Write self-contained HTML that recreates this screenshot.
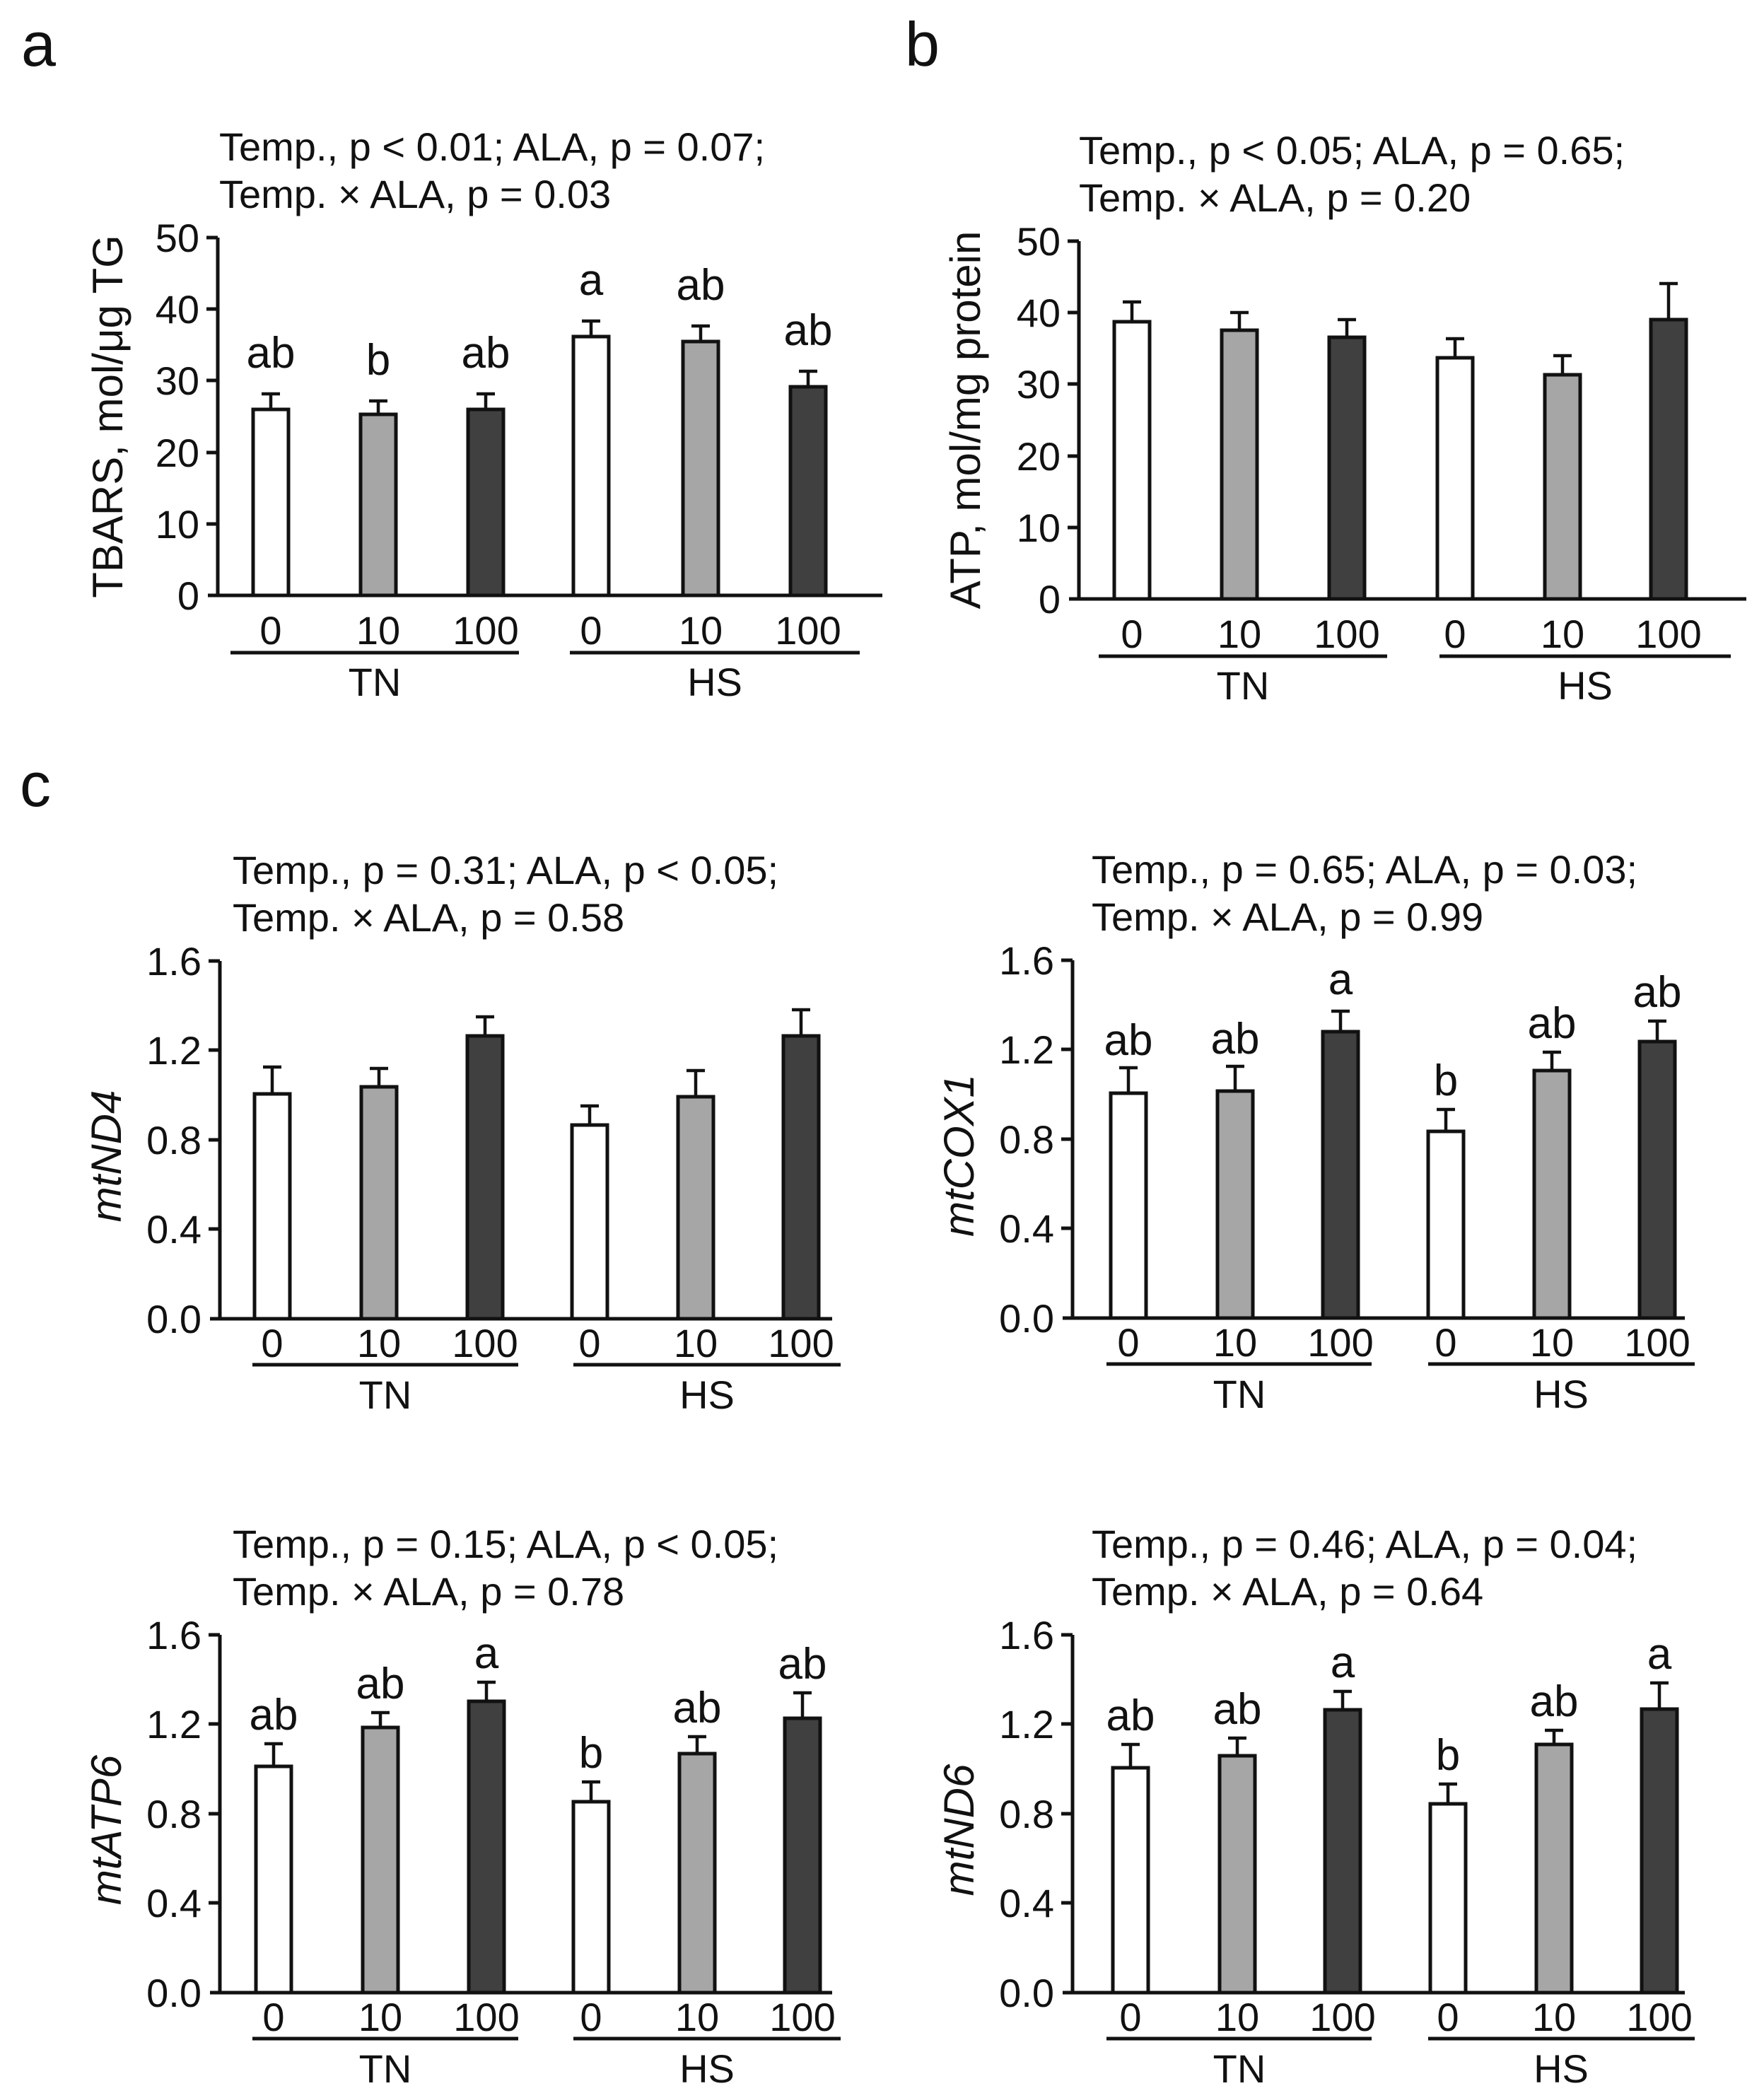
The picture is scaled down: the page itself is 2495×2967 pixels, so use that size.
<!DOCTYPE html>
<html><head><meta charset="utf-8"><style>
html,body{margin:0;padding:0;background:#fff;}
svg{display:block;font-family:"Liberation Sans",Arial,sans-serif;}
.t{font-size:56px;fill:#111;}
.an{font-size:56px;fill:#111;}
.lt{font-size:62px;fill:#111;text-anchor:middle;}
.yl{font-size:60px;fill:#111;text-anchor:middle;}
.pl{font-size:88px;fill:#111;}
.ax{stroke:#111;stroke-width:5;fill:none;}
.w{fill:#fff;stroke:#111;stroke-width:5;}
.g{fill:#a6a6a6;stroke:#111;stroke-width:5;}
.d{fill:#404040;stroke:#111;stroke-width:5;}
.e{stroke:#111;stroke-width:4.5;fill:none;}
</style></head><body>
<svg width="2495" height="2967" viewBox="0 0 2495 2967" xmlns="http://www.w3.org/2000/svg">
<rect width="2495" height="2967" fill="#fff"/>
<text class="pl" x="30" y="93">a</text>
<text class="pl" x="1280" y="93">b</text>
<text class="pl" x="28" y="1140">c</text>

<!-- Panel a -->
<g transform="translate(308,842)">
<text class="an" x="2" y="-615">Temp., p &lt; 0.01; ALA, p = 0.07;</text>
<text class="an" x="2" y="-548">Temp. × ALA, p = 0.03</text>
<text class="yl" transform="translate(-135,-253) rotate(-90)">TBARS, mol/μg TG</text>
<path class="ax" d="M0,-506V0M-14,0H940M-16,-506H0M-16,-405H0M-16,-304H0M-16,-202H0M-16,-101H0"/>
<g class="t" text-anchor="end"><text x="-26" y="20">0</text><text x="-26" y="-81">10</text><text x="-26" y="-182">20</text><text x="-26" y="-284">30</text><text x="-26" y="-385">40</text><text x="-26" y="-486">50</text></g>
<rect class="w" x="50" y="-263" width="50" height="263"/><path class="e" d="M75,-263V-285M62,-285H88"/>
<rect class="g" x="202" y="-256" width="50" height="256"/><path class="e" d="M227,-256V-275M214,-275H240"/>
<rect class="d" x="354" y="-263" width="50" height="263"/><path class="e" d="M379,-263V-285M366,-285H392"/>
<rect class="w" x="503" y="-366" width="50" height="366"/><path class="e" d="M528,-366V-388M515,-388H541"/>
<rect class="g" x="658" y="-359" width="50" height="359"/><path class="e" d="M683,-359V-381M670,-381H696"/>
<rect class="d" x="810" y="-295" width="50" height="295"/><path class="e" d="M835,-295V-317M822,-317H848"/>
<text class="lt" x="75" y="-322">ab</text><text class="lt" x="227" y="-312">b</text><text class="lt" x="379" y="-322">ab</text>
<text class="lt" x="528" y="-425">a</text><text class="lt" x="683" y="-418">ab</text><text class="lt" x="835" y="-354">ab</text>
<g class="t" text-anchor="middle"><text x="75" y="69">0</text><text x="227" y="69">10</text><text x="379" y="69">100</text><text x="528" y="69">0</text><text x="683" y="69">10</text><text x="835" y="69">100</text>
<text x="222" y="142">TN</text><text x="703" y="142">HS</text></g>
<path class="ax" d="M18,81H426M498,81H908"/>
</g>

<!-- Panel b -->
<g transform="translate(1526,847)">
<text class="an" x="0" y="-615">Temp., p &lt; 0.05; ALA, p = 0.65;</text>
<text class="an" x="0" y="-548">Temp. × ALA, p = 0.20</text>
<text class="yl" transform="translate(-140,-253) rotate(-90)">ATP, mol/mg protein</text>
<path class="ax" d="M0,-506V0M-14,0H944M-16,-506H0M-16,-405H0M-16,-304H0M-16,-202H0M-16,-101H0"/>
<g class="t" text-anchor="end"><text x="-26" y="20">0</text><text x="-26" y="-81">10</text><text x="-26" y="-182">20</text><text x="-26" y="-284">30</text><text x="-26" y="-385">40</text><text x="-26" y="-486">50</text></g>
<rect class="w" x="50" y="-392" width="50" height="392"/><path class="e" d="M75,-392V-420M62,-420H88"/>
<rect class="g" x="202" y="-380" width="50" height="380"/><path class="e" d="M227,-380V-405M214,-405H240"/>
<rect class="d" x="354" y="-370" width="50" height="370"/><path class="e" d="M379,-370V-395M366,-395H392"/>
<rect class="w" x="507" y="-341" width="50" height="341"/><path class="e" d="M532,-341V-368M519,-368H545"/>
<rect class="g" x="659" y="-317" width="50" height="317"/><path class="e" d="M684,-317V-344M671,-344H697"/>
<rect class="d" x="809" y="-395" width="50" height="395"/><path class="e" d="M834,-395V-446M821,-446H847"/>
<g class="t" text-anchor="middle"><text x="75" y="69">0</text><text x="227" y="69">10</text><text x="379" y="69">100</text><text x="532" y="69">0</text><text x="684" y="69">10</text><text x="834" y="69">100</text>
<text x="232" y="142">TN</text><text x="716" y="142">HS</text></g>
<path class="ax" d="M28,81H436M510,81H922"/>
</g>

<!-- mtND4 -->
<g transform="translate(311,1865)">
<text class="an" x="18" y="-615">Temp., p = 0.31; ALA, p &lt; 0.05;</text>
<text class="an" x="18" y="-548">Temp. × ALA, p = 0.58</text>
<text class="yl" font-style="italic" transform="translate(-140,-230) rotate(-90)">mtND4</text>
<path class="ax" d="M0,-506V0M-14,0H866M-16,-506H0M-16,-380H0M-16,-253H0M-16,-127H0"/>
<g class="t" text-anchor="end"><text x="-26" y="20">0.0</text><text x="-26" y="-107">0.4</text><text x="-26" y="-233">0.8</text><text x="-26" y="-360">1.2</text><text x="-26" y="-486">1.6</text></g>
<rect class="w" x="49" y="-318" width="50" height="318"/><path class="e" d="M74,-318V-356M61,-356H87"/>
<rect class="g" x="200" y="-328" width="50" height="328"/><path class="e" d="M225,-328V-354M212,-354H238"/>
<rect class="d" x="350" y="-400" width="50" height="400"/><path class="e" d="M375,-400V-427M362,-427H388"/>
<rect class="w" x="498" y="-274" width="50" height="274"/><path class="e" d="M523,-274V-301M510,-301H536"/>
<rect class="g" x="648" y="-314" width="50" height="314"/><path class="e" d="M673,-314V-351M660,-351H686"/>
<rect class="d" x="797" y="-400" width="50" height="400"/><path class="e" d="M822,-400V-437M809,-437H835"/>
<g class="t" text-anchor="middle"><text x="74" y="54">0</text><text x="225" y="54">10</text><text x="375" y="54">100</text><text x="523" y="54">0</text><text x="673" y="54">10</text><text x="822" y="54">100</text>
<text x="234" y="127">TN</text><text x="689" y="127">HS</text></g>
<path class="ax" d="M46,65H422M500,65H878"/>
</g>

<!-- mtCOX1 -->
<g transform="translate(1517,1864)">
<text class="an" x="27" y="-615">Temp., p = 0.65; ALA, p = 0.03;</text>
<text class="an" x="27" y="-548">Temp. × ALA, p = 0.99</text>
<text class="yl" font-style="italic" transform="translate(-140,-230) rotate(-90)">mtCOX1</text>
<path class="ax" d="M0,-506V0M-14,0H866M-16,-506H0M-16,-380H0M-16,-253H0M-16,-127H0"/>
<g class="t" text-anchor="end"><text x="-26" y="20">0.0</text><text x="-26" y="-107">0.4</text><text x="-26" y="-233">0.8</text><text x="-26" y="-360">1.2</text><text x="-26" y="-486">1.6</text></g>
<rect class="w" x="54" y="-318" width="50" height="318"/><path class="e" d="M79,-318V-354M66,-354H92"/>
<rect class="g" x="205" y="-321" width="50" height="321"/><path class="e" d="M230,-321V-356M217,-356H243"/>
<rect class="d" x="354" y="-405" width="50" height="405"/><path class="e" d="M379,-405V-434M366,-434H392"/>
<rect class="w" x="503" y="-264" width="50" height="264"/><path class="e" d="M528,-264V-295M515,-295H541"/>
<rect class="g" x="653" y="-350" width="50" height="350"/><path class="e" d="M678,-350V-376M665,-376H691"/>
<rect class="d" x="802" y="-391" width="50" height="391"/><path class="e" d="M827,-391V-420M814,-420H840"/>
<text class="lt" x="79" y="-372">ab</text><text class="lt" x="230" y="-374">ab</text><text class="lt" x="379" y="-458">a</text>
<text class="lt" x="528" y="-315">b</text><text class="lt" x="678" y="-396">ab</text><text class="lt" x="827" y="-440">ab</text>
<g class="t" text-anchor="middle"><text x="79" y="54">0</text><text x="230" y="54">10</text><text x="379" y="54">100</text><text x="528" y="54">0</text><text x="678" y="54">10</text><text x="827" y="54">100</text>
<text x="236" y="127">TN</text><text x="691" y="127">HS</text></g>
<path class="ax" d="M48,65H423M503,65H880"/>
</g>

<!-- mtATP6 -->
<g transform="translate(311,2818)">
<text class="an" x="18" y="-615">Temp., p = 0.15; ALA, p &lt; 0.05;</text>
<text class="an" x="18" y="-548">Temp. × ALA, p = 0.78</text>
<text class="yl" font-style="italic" transform="translate(-140,-230) rotate(-90)">mtATP6</text>
<path class="ax" d="M0,-506V0M-14,0H866M-16,-506H0M-16,-380H0M-16,-253H0M-16,-127H0"/>
<g class="t" text-anchor="end"><text x="-26" y="20">0.0</text><text x="-26" y="-107">0.4</text><text x="-26" y="-233">0.8</text><text x="-26" y="-360">1.2</text><text x="-26" y="-486">1.6</text></g>
<rect class="w" x="51" y="-320" width="50" height="320"/><path class="e" d="M76,-320V-352M63,-352H89"/>
<rect class="g" x="202" y="-375" width="50" height="375"/><path class="e" d="M227,-375V-396M214,-396H240"/>
<rect class="d" x="352" y="-412" width="50" height="412"/><path class="e" d="M377,-412V-439M364,-439H390"/>
<rect class="w" x="500" y="-270" width="50" height="270"/><path class="e" d="M525,-270V-298M512,-298H538"/>
<rect class="g" x="650" y="-338" width="50" height="338"/><path class="e" d="M675,-338V-362M662,-362H688"/>
<rect class="d" x="799" y="-388" width="50" height="388"/><path class="e" d="M824,-388V-424M811,-424H837"/>
<text class="lt" x="76" y="-372">ab</text><text class="lt" x="227" y="-416">ab</text><text class="lt" x="377" y="-459">a</text>
<text class="lt" x="525" y="-318">b</text><text class="lt" x="675" y="-382">ab</text><text class="lt" x="824" y="-444">ab</text>
<g class="t" text-anchor="middle"><text x="76" y="54">0</text><text x="227" y="54">10</text><text x="377" y="54">100</text><text x="525" y="54">0</text><text x="675" y="54">10</text><text x="824" y="54">100</text>
<text x="234" y="127">TN</text><text x="689" y="127">HS</text></g>
<path class="ax" d="M46,65H422M500,65H878"/>
</g>

<!-- mtND6 -->
<g transform="translate(1517,2818)">
<text class="an" x="27" y="-615">Temp., p = 0.46; ALA, p = 0.04;</text>
<text class="an" x="27" y="-548">Temp. × ALA, p = 0.64</text>
<text class="yl" font-style="italic" transform="translate(-140,-230) rotate(-90)">mtND6</text>
<path class="ax" d="M0,-506V0M-14,0H866M-16,-506H0M-16,-380H0M-16,-253H0M-16,-127H0"/>
<g class="t" text-anchor="end"><text x="-26" y="20">0.0</text><text x="-26" y="-107">0.4</text><text x="-26" y="-233">0.8</text><text x="-26" y="-360">1.2</text><text x="-26" y="-486">1.6</text></g>
<rect class="w" x="57" y="-318" width="50" height="318"/><path class="e" d="M82,-318V-351M69,-351H95"/>
<rect class="g" x="208" y="-335" width="50" height="335"/><path class="e" d="M233,-335V-360M220,-360H246"/>
<rect class="d" x="357" y="-400" width="50" height="400"/><path class="e" d="M382,-400V-426M369,-426H395"/>
<rect class="w" x="506" y="-267" width="50" height="267"/><path class="e" d="M531,-267V-295M518,-295H544"/>
<rect class="g" x="656" y="-351" width="50" height="351"/><path class="e" d="M681,-351V-371M668,-371H694"/>
<rect class="d" x="805" y="-401" width="50" height="401"/><path class="e" d="M830,-401V-438M817,-438H843"/>
<text class="lt" x="82" y="-371">ab</text><text class="lt" x="233" y="-380">ab</text><text class="lt" x="382" y="-446">a</text>
<text class="lt" x="531" y="-315">b</text><text class="lt" x="681" y="-391">ab</text><text class="lt" x="830" y="-458">a</text>
<g class="t" text-anchor="middle"><text x="82" y="54">0</text><text x="233" y="54">10</text><text x="382" y="54">100</text><text x="531" y="54">0</text><text x="681" y="54">10</text><text x="830" y="54">100</text>
<text x="236" y="127">TN</text><text x="691" y="127">HS</text></g>
<path class="ax" d="M48,65H423M503,65H880"/>
</g>
</svg>
</body></html>
